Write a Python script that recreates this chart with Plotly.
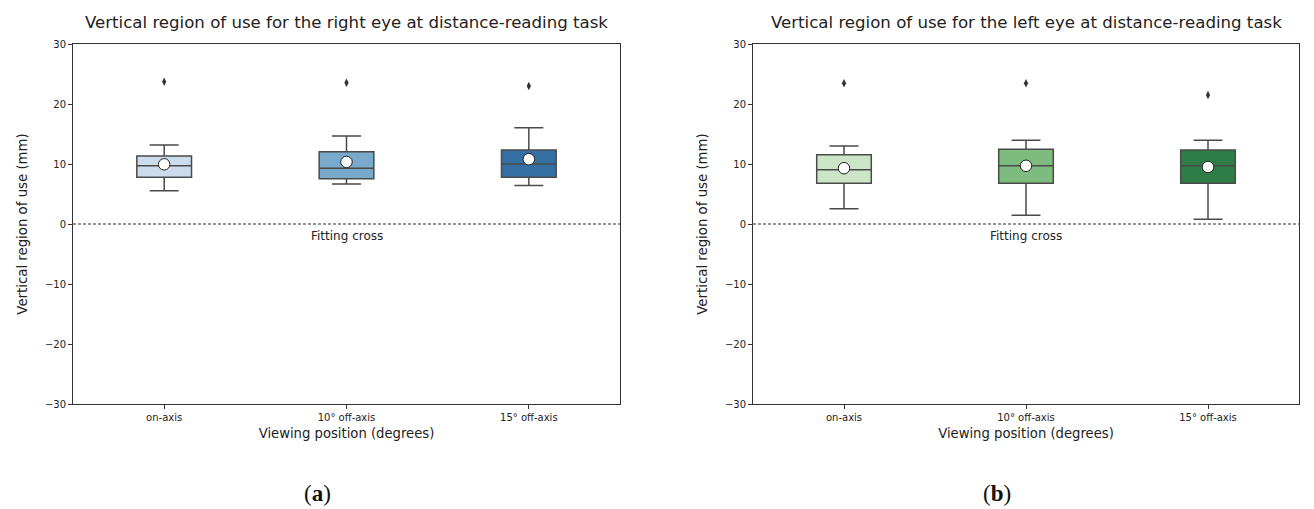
import plotly.graph_objects as go

categories = ["on-axis", "10° off-axis", "15° off-axis"]

# Right eye (panel a)
right_q1 = [7.8, 7.55, 7.8]
right_median = [9.7, 9.3, 10.0]
right_q3 = [11.35, 12.05, 12.35]
right_lower = [5.55, 6.65, 6.4]
right_upper = [13.15, 14.65, 16.05]
right_mean = [9.95, 10.35, 10.8]
right_outlier = [23.7, 23.55, 23.0]

# Left eye (panel b)
left_q1 = [6.8, 6.8, 6.8]
left_median = [9.05, 9.7, 9.7]
left_q3 = [11.55, 12.45, 12.35]
left_lower = [2.55, 1.45, 0.8]
left_upper = [13.0, 13.95, 13.95]
left_mean = [9.3, 9.7, 9.5]
left_outlier = [23.45, 23.45, 21.5]

blue_colors = ["#cddcec", "#79aacc", "#3470a3"]
green_colors = ["#cce5c7", "#7dbb7e", "#2e7d47"]

titles = ["Vertical region of use for the right eye at distance-reading task",
          "Vertical region of use for the left eye at distance-reading task"]
panel_labels = ["(a)", "(b)"]
y_title = "Vertical region of use (mm)"
x_title = "Viewing position (degrees)"
zero_label = "Fitting cross"

W, H = 1314, 509
fig = go.Figure()

panels = [
    dict(q1=right_q1, med=right_median, q3=right_q3, lo=right_lower, up=right_upper,
         mean=right_mean, out=right_outlier, colors=blue_colors, xa="x", ya="y",
         dom=[73 / W, 620 / W]),
    dict(q1=left_q1, med=left_median, q3=left_q3, lo=left_lower, up=left_upper,
         mean=left_mean, out=left_outlier, colors=green_colors, xa="x2", ya="y2",
         dom=[753 / W, 1299 / W]),
]

edge = "#4a4a4a"
for p in panels:
    for i in range(len(categories)):
        fig.add_trace(go.Box(
            x=[i], q1=[p["q1"][i]], median=[p["med"][i]], q3=[p["q3"][i]],
            lowerfence=[p["lo"][i]], upperfence=[p["up"][i]],
            width=0.3, whiskerwidth=0.53, fillcolor=p["colors"][i],
            line=dict(color=edge, width=1.5), boxpoints=False,
            xaxis=p["xa"], yaxis=p["ya"], showlegend=False, hoverinfo="skip",
        ))
    fig.add_trace(go.Scatter(
        x=list(range(len(categories))), y=p["out"], mode="markers",
        marker=dict(symbol="diamond-tall", size=6, color="#333333",
                    line=dict(width=0)),
        xaxis=p["xa"], yaxis=p["ya"], showlegend=False))
    fig.add_trace(go.Scatter(
        x=list(range(len(categories))), y=p["mean"], mode="markers",
        marker=dict(symbol="circle", size=11.5, color="white",
                    line=dict(color="#222222", width=1)),
        xaxis=p["xa"], yaxis=p["ya"], showlegend=False))

ydom = [1 - 404 / H, 1 - 44 / H]
axis_common = dict(showline=True, linecolor="#333333", linewidth=1, mirror=True,
                   ticks="outside", ticklen=4, tickcolor="#333333",
                   showgrid=False, zeroline=False, automargin=False,
                   tickfont=dict(family="DejaVu Sans", size=10, color="#222222"))

layout = dict(
    width=W, height=H, margin=dict(l=0, r=0, t=0, b=0, autoexpand=False),
    plot_bgcolor="white", paper_bgcolor="white", boxmode="overlay",
    font=dict(family="DejaVu Sans", color="#222222"),
)
for k, p in enumerate(panels):
    sfx = "" if k == 0 else "2"
    layout["xaxis" + sfx] = dict(
        domain=p["dom"], range=[-0.5, 2.5], tickvals=[0, 1, 2], ticktext=categories,
        anchor="y" + sfx,
        title=dict(text=x_title, font=dict(size=13.2, family="DejaVu Sans"), standoff=6),
        **axis_common)
    layout["yaxis" + sfx] = dict(
        domain=ydom, range=[-30, 30], tickvals=[-30, -20, -10, 0, 10, 20, 30],
        ticktext=["\u221230", "\u221220", "\u221210", "0", "10", "20", "30"],
        anchor="x" + sfx,
        title=dict(text=y_title, font=dict(size=13.3, family="DejaVu Sans"), standoff=14),
        **axis_common)
fig.update_layout(**layout)

for k, p in enumerate(panels):
    sfx = "" if k == 0 else "2"
    fig.add_shape(type="line", xref="x" + sfx + " domain", yref="y" + sfx,
                  x0=0, x1=1, y0=0, y1=0,
                  line=dict(color="#333333", width=1, dash="3px,2px"))
    fig.add_annotation(x=1, y=0, xref="x" + sfx, yref="y" + sfx, text=zero_label,
                       showarrow=False, yshift=-12,
                       font=dict(size=12, family="DejaVu Sans", color="#222222"))
    cx = (p["dom"][0] + p["dom"][1]) / 2
    fig.add_annotation(x=cx, y=1 - 22 / H, xref="paper", yref="paper", text=titles[k],
                       showarrow=False, xanchor="center", yanchor="middle",
                       font=dict(size=16.6, family="DejaVu Sans", color="#222222"))
    fig.add_annotation(x=cx - 29 / W, y=1 - 493 / H,
                       xref="paper", yref="paper",
                       text="(<b>" + panel_labels[k][1] + "</b>)",
                       showarrow=False, xanchor="center", yanchor="middle",
                       font=dict(size=23, family="Liberation Serif", color="#111111"))

fig.write_html("out.html", config={"displayModeBar": False},
               post_script="document.body.style.margin='0px';document.body.style.overflow='hidden';")
